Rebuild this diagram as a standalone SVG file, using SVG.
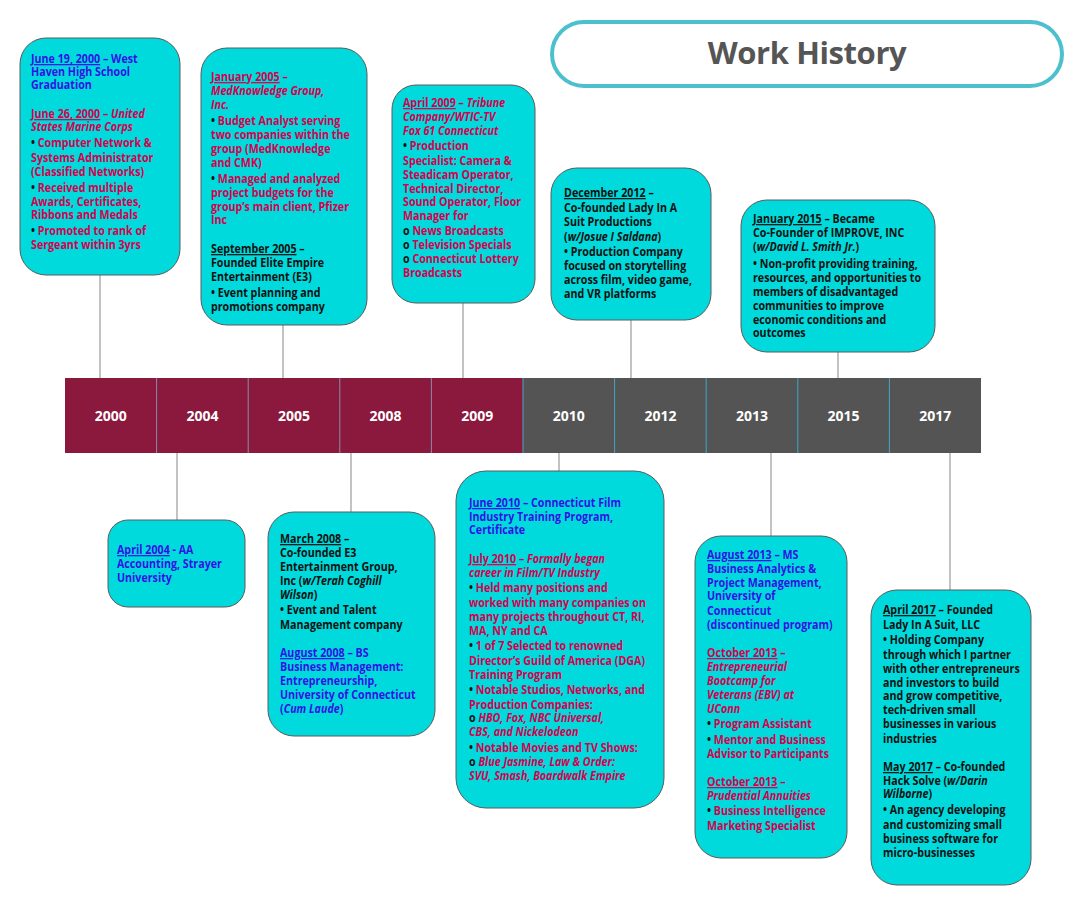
<svg xmlns="http://www.w3.org/2000/svg" width="1078" height="903" viewBox="0 0 1078 903">
<style>
.bg{fill:#ffffff}
.box{fill:#00DADC;stroke:#5a5a5a;stroke-width:1}
.t{font-family:"Open Sans","Liberation Sans",sans-serif;font-weight:700;font-size:12.3px}
.b{fill:#3212E6}.r{fill:#D6004F}.k{fill:#111111}
.i{font-style:italic}
.u{text-decoration:underline}
.conn line{stroke:#9a9a9a;stroke-width:1.2}
.yr{font-family:"Open Sans","Liberation Sans",sans-serif;font-weight:700;font-size:14px;fill:#ffffff;text-anchor:middle}
</style>
<rect class="bg" x="0" y="0" width="1078" height="903"/>

<g id="title">
<rect x="552" y="22" width="510" height="64" rx="32" fill="#ffffff" stroke="#4CC0CC" stroke-width="4"/>
<text x="807" y="64" text-anchor="middle" font-family="'Open Sans','Liberation Sans',sans-serif" font-weight="700" font-size="31" fill="#555555" letter-spacing="-0.4">Work History</text>
</g>

<g id="connectors" class="conn">
<line x1="100" y1="275" x2="100" y2="378"/>
<line x1="283" y1="325" x2="283" y2="378"/>
<line x1="463" y1="303" x2="463" y2="378"/>
<line x1="631" y1="320" x2="631" y2="378"/>
<line x1="838" y1="352" x2="838" y2="378"/>
<line x1="177" y1="453" x2="177" y2="520"/>
<line x1="351" y1="453" x2="351" y2="512"/>
<line x1="559" y1="453" x2="559" y2="471"/>
<line x1="771" y1="453" x2="771" y2="536"/>
<line x1="950" y1="453" x2="950" y2="590"/>
</g>

<g id="timeline">
<rect x="65" y="378" width="458" height="75" fill="#8B183D"/>
<rect x="523" y="378" width="458" height="75" fill="#545454"/>
<g stroke="#8C8CA8" stroke-width="1">
<line x1="156.6" y1="378" x2="156.6" y2="453"/>
<line x1="248.2" y1="378" x2="248.2" y2="453"/>
<line x1="339.8" y1="378" x2="339.8" y2="453"/>
<line x1="431.4" y1="378" x2="431.4" y2="453"/>
</g>
<g stroke="#3FA6C6" stroke-width="1">
<line x1="523" y1="378" x2="523" y2="453"/>
<line x1="614.6" y1="378" x2="614.6" y2="453"/>
<line x1="706.2" y1="378" x2="706.2" y2="453"/>
<line x1="797.8" y1="378" x2="797.8" y2="453"/>
<line x1="889.4" y1="378" x2="889.4" y2="453"/>
</g>
<text class="yr" x="110.8" y="421">2000</text>
<text class="yr" x="202.4" y="421">2004</text>
<text class="yr" x="294" y="421">2005</text>
<text class="yr" x="385.6" y="421">2008</text>
<text class="yr" x="477.2" y="421">2009</text>
<text class="yr" x="568.8" y="421">2010</text>
<text class="yr" x="660.4" y="421">2012</text>
<text class="yr" x="752" y="421">2013</text>
<text class="yr" x="843.6" y="421">2015</text>
<text class="yr" x="935.2" y="421">2017</text>
</g>

<g id="box-2000">
<rect class="box" x="20" y="38" width="160" height="237" rx="26"/>
<g class="t" transform="translate(31,0) scale(0.87,1)">
<text y="63" class="b"><tspan class="u">June 19, 2000</tspan> – West</text>
<text y="76" class="b">Haven High School</text>
<text y="89" class="b">Graduation</text>
<text y="118" class="r"><tspan class="u">June 26, 2000</tspan> – <tspan class="i">United</tspan></text>
<text y="131" class="r i">States Marine Corps</text>
<text y="147" class="r"><tspan class="k">•</tspan> Computer Network &amp;</text>
<text y="162" class="r">Systems Administrator</text>
<text y="176" class="r">(Classified Networks)</text>
<text y="192" class="r"><tspan class="k">•</tspan>  Received multiple</text>
<text y="206" class="r">Awards, Certificates,</text>
<text y="219" class="r">Ribbons and Medals</text>
<text y="235" class="r"><tspan class="k">•</tspan> Promoted to rank of</text>
<text y="249" class="r">Sergeant within 3yrs</text>
</g>
</g>

<g id="box-2005">
<rect class="box" x="201" y="48" width="166" height="277" rx="26"/>
<g class="t" transform="translate(211,0) scale(0.87,1)">
<text y="81" class="r"><tspan class="u">January 2005</tspan> –</text>
<text y="95" class="r i">MedKnowledge Group,</text>
<text y="109" class="r i">Inc.</text>
<text y="125" class="r"><tspan class="k">•</tspan> Budget Analyst serving</text>
<text y="139" class="r">two companies within the</text>
<text y="153" class="r">group (MedKnowledge</text>
<text y="167" class="r">and CMK)</text>
<text y="183" class="r"><tspan class="k">•</tspan> Managed and analyzed</text>
<text y="197" class="r">project budgets for the</text>
<text y="211" class="r">group’s main client, Pfizer</text>
<text y="224" class="r">Inc</text>
<text y="253" class="k"><tspan class="u">September 2005</tspan> –</text>
<text y="267" class="k">Founded Elite Empire</text>
<text y="281" class="k">Entertainment (E3)</text>
<text y="297" class="k">• Event planning and</text>
<text y="311" class="k">promotions company</text>
</g>
</g>

<g id="box-2009">
<rect class="box" x="392" y="85" width="143" height="218" rx="24"/>
<g class="t" transform="translate(403,0) scale(0.87,1)">
<text y="107" class="r"><tspan class="u">April 2009</tspan> – <tspan class="i">Tribune</tspan></text>
<text y="121" class="r i">Company/WTIC-TV</text>
<text y="135" class="r i">Fox 61 Connecticut</text>
<text y="150" class="r"><tspan class="k">•</tspan> Production</text>
<text y="165" class="r">Specialist: Camera &amp;</text>
<text y="179" class="r">Steadicam Operator,</text>
<text y="193" class="r">Technical Director,</text>
<text y="206" class="r">Sound Operator, Floor</text>
<text y="220" class="r">Manager for</text>
<text y="235" class="r"><tspan class="k">o</tspan> News Broadcasts</text>
<text y="249" class="r"><tspan class="k">o</tspan> Television Specials</text>
<text y="263" class="r"><tspan class="k">o</tspan> Connecticut Lottery</text>
<text y="277" class="r">Broadcasts</text>
</g>
</g>

<g id="box-2012">
<rect class="box" x="551" y="168" width="160" height="152" rx="26"/>
<g class="t k" transform="translate(564,0) scale(0.87,1)">
<text y="197"><tspan class="u">December 2012</tspan> –</text>
<text y="212">Co-founded Lady In A</text>
<text y="226">Suit Productions</text>
<text y="241">(<tspan class="i">w/Josue I Saldana</tspan>)</text>
<text y="256">• Production Company</text>
<text y="270">focused on storytelling</text>
<text y="284">across film, video game,</text>
<text y="298">and VR platforms</text>
</g>
</g>

<g id="box-2015">
<rect class="box" x="741" y="200" width="194" height="152" rx="26"/>
<g class="t k" transform="translate(753,0) scale(0.87,1)">
<text y="223"><tspan class="u">January 2015</tspan> – Became</text>
<text y="237">Co-Founder of IMPROVE, INC</text>
<text y="251">(<tspan class="i">w/David L. Smith Jr.</tspan>)</text>
<text y="268">•  Non-profit providing training,</text>
<text y="282">resources, and opportunities to</text>
<text y="296">members of disadvantaged</text>
<text y="310">communities to improve</text>
<text y="324">economic conditions and</text>
<text y="337">outcomes</text>
</g>
</g>

<g id="box-2004">
<rect class="box" x="108" y="520" width="137" height="87" rx="20"/>
<g class="t b" transform="translate(117,0) scale(0.87,1)">
<text y="554"><tspan class="u">April 2004</tspan> - AA</text>
<text y="568">Accounting, Strayer</text>
<text y="582">University</text>
</g>
</g>

<g id="box-2008">
<rect class="box" x="268" y="512" width="167" height="224" rx="26"/>
<g class="t" transform="translate(280,0) scale(0.87,1)">
<text y="543" class="k"><tspan class="u">March 2008</tspan> –</text>
<text y="557" class="k">Co-founded E3</text>
<text y="571" class="k">Entertainment Group,</text>
<text y="585" class="k">Inc (<tspan class="i">w/Terah Coghill</tspan></text>
<text y="599" class="k"><tspan class="i">Wilson</tspan>)</text>
<text y="614" class="k">• Event and Talent</text>
<text y="629" class="k">Management company</text>
<text y="657" class="b"><tspan class="u">August 2008</tspan> – BS</text>
<text y="671" class="b">Business Management:</text>
<text y="685" class="b">Entrepreneurship,</text>
<text y="699" class="b">University of Connecticut</text>
<text y="713" class="b">(<tspan class="i">Cum Laude</tspan>)</text>
</g>
</g>

<g id="box-2010">
<rect class="box" x="456" y="471" width="208" height="337" rx="30"/>
<g class="t" transform="translate(469,0) scale(0.87,1)">
<text y="507" class="b"><tspan class="u">June 2010</tspan> – Connecticut Film</text>
<text y="521" class="b">Industry Training Program,</text>
<text y="534" class="b">Certificate</text>
<text y="563" class="r"><tspan class="u">July 2010</tspan> – <tspan class="i">Formally began</tspan></text>
<text y="577" class="r i">career in Film/TV Industry</text>
<text y="592" class="r"><tspan class="k">•</tspan> Held many positions and</text>
<text y="607" class="r">worked with many companies on</text>
<text y="621" class="r">many projects throughout CT, RI,</text>
<text y="635" class="r">MA, NY and CA</text>
<text y="650" class="r"><tspan class="k">•</tspan> 1 of 7 Selected to renowned</text>
<text y="665" class="r">Director’s Guild of America (DGA)</text>
<text y="679" class="r">Training Program</text>
<text y="694" class="r"><tspan class="k">•</tspan> Notable Studios, Networks, and</text>
<text y="709" class="r">Production Companies:</text>
<text y="722" class="r"><tspan class="k">o</tspan> <tspan class="i">HBO, Fox, NBC Universal,</tspan></text>
<text y="736" class="r i">CBS, and Nickelodeon</text>
<text y="752" class="r"><tspan class="k">•</tspan> Notable Movies and TV Shows:</text>
<text y="766" class="r"><tspan class="k">o</tspan> <tspan class="i">Blue Jasmine, Law &amp; Order:</tspan></text>
<text y="780" class="r i">SVU, Smash, Boardwalk Empire</text>
</g>
</g>

<g id="box-2013">
<rect class="box" x="695" y="536" width="152" height="322" rx="26"/>
<g class="t" transform="translate(707,0) scale(0.87,1)">
<text y="559" class="b"><tspan class="u">August 2013</tspan> – MS</text>
<text y="573" class="b">Business Analytics &amp;</text>
<text y="587" class="b">Project Management,</text>
<text y="600" class="b">University of</text>
<text y="615" class="b">Connecticut</text>
<text y="629" class="b">(discontinued program)</text>
<text y="657" class="r"><tspan class="u">October 2013</tspan> –</text>
<text y="671" class="r i">Entrepreneurial</text>
<text y="685" class="r i">Bootcamp for</text>
<text y="699" class="r i">Veterans (EBV) at</text>
<text y="713" class="r i">UConn</text>
<text y="728" class="r"><tspan class="k">•</tspan> Program Assistant</text>
<text y="744" class="r"><tspan class="k">•</tspan> Mentor and Business</text>
<text y="758" class="r">Advisor to Participants</text>
<text y="786" class="r"><tspan class="u">October 2013</tspan> –</text>
<text y="800" class="r i">Prudential Annuities</text>
<text y="815" class="r"><tspan class="k">•</tspan> Business Intelligence</text>
<text y="830" class="r">Marketing Specialist</text>
</g>
</g>

<g id="box-2017">
<rect class="box" x="871" y="590" width="160" height="295" rx="26"/>
<g class="t k" transform="translate(883,0) scale(0.87,1)">
<text y="614"><tspan class="u">April 2017</tspan> – Founded</text>
<text y="629">Lady In A Suit, LLC</text>
<text y="644">• Holding Company</text>
<text y="659">through which I partner</text>
<text y="673">with other entrepreneurs</text>
<text y="687">and investors to build</text>
<text y="700">and grow competitive,</text>
<text y="714">tech-driven small</text>
<text y="728">businesses in various</text>
<text y="743">industries</text>
<text y="771"><tspan class="u">May 2017</tspan> – Co-founded</text>
<text y="785">Hack Solve (<tspan class="i">w/Darin</tspan></text>
<text y="798"><tspan class="i">Wilborne</tspan>)</text>
<text y="814">• An agency developing</text>
<text y="829">and customizing small</text>
<text y="843">business software for</text>
<text y="857">micro-businesses</text>
</g>
</g>
</svg>
